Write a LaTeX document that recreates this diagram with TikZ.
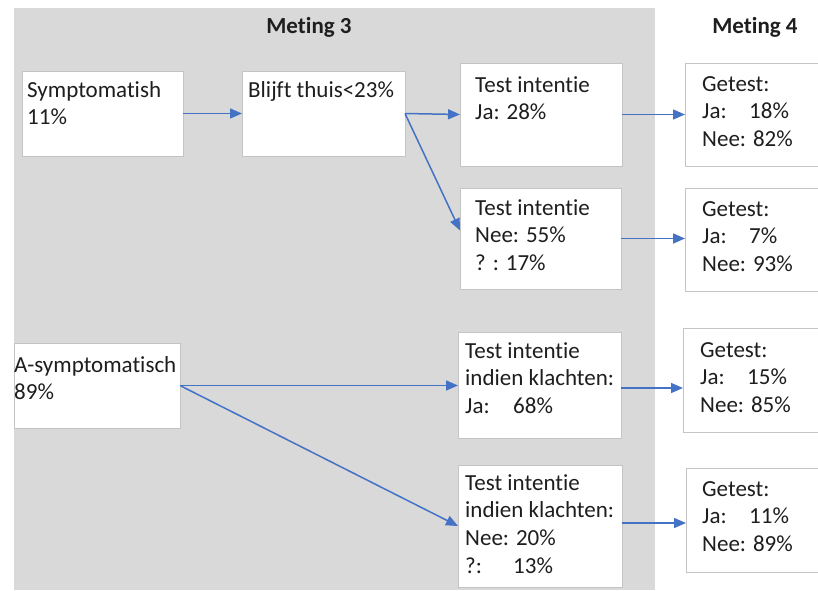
\documentclass[tikz,border=0pt]{standalone}
\usepackage{fontspec}
\setmainfont{Carlito}[Ligatures={NoCommon,NoContextual}]
\usetikzlibrary{arrows.meta,calc}
\definecolor{bgc}{HTML}{D9D9D9}
\definecolor{bdc}{HTML}{C4C4C4}
\definecolor{arc}{HTML}{4472C4}
\definecolor{txc}{HTML}{1E1E1E}
\begin{document}
\begin{tikzpicture}[x=1pt,y=-1pt,
  box/.style={draw=bdc, line width=1pt, fill=white, anchor=north west, inner sep=0pt, outer sep=0pt},
  txtn/.style={anchor=base west, inner sep=0pt, text=txc, font=\fontsize{23}{27.8}\selectfont},
  ttl/.style={anchor=base, inner sep=0pt, text=txc, font=\fontsize{23}{27.8}\selectfont\bfseries},
  conn/.style={draw=arc, line width=1.5pt, -{Triangle[length=12pt,width=10pt]}}]
\useasboundingbox (0,0) rectangle (818,590);
\clip (0,0) rectangle (818,590);
\fill[bgc] (14,8) rectangle (655,590);
\node[ttl] (m3) at (309,33) {Meting 3};
\node[ttl] (m4) at (755,33) {Meting 4};
% boxes
\node[box, minimum width=161pt, minimum height=85pt] (sym) at (22,71) {};
\node[box, minimum width=163pt, minimum height=85pt] (blt) at (242,71) {};
\node[box, minimum width=162pt, minimum height=103pt] (tja) at (460,63) {};
\node[box, minimum width=161pt, minimum height=101pt] (tnee) at (460,188) {};
\node[box, minimum width=200pt, minimum height=103pt] (ga) at (685,63) {};
\node[box, minimum width=200pt, minimum height=103pt] (gb) at (685,188) {};
\node[box, minimum width=166pt, minimum height=85pt] (asym) at (14,343) {};
\node[box, minimum width=163pt, minimum height=106pt] (kja) at (458,332) {};
\node[box, minimum width=164pt, minimum height=122pt] (knee) at (458,465) {};
\node[box, minimum width=200pt, minimum height=104pt] (gc) at (683,328) {};
\node[box, minimum width=200pt, minimum height=104pt] (gd) at (686,468) {};
% texts
\node[txtn] (symt) at (27,97) {\parbox[t]{155pt}{\raggedright Symptomatish\\11\%}};
\node[txtn] (bltt) at (248,97) {\parbox[t]{158pt}{\raggedright Blijft thuis<23\%}};
\node[txtn] (tjat) at (475,92) {\parbox[t]{145pt}{\raggedright Test intentie\\Ja: 28\%}};
\node[txtn] (tneet) at (475,215) {\parbox[t]{145pt}{\raggedright Test intentie\\Nee: 55\%\\? : 17\%}};
\node[txtn] (gat) at (702,91) {\parbox[t]{115pt}{\raggedright Getest:\\\makebox[47pt][l]{Ja:}18\%\\Nee: 82\%}};
\node[txtn] (gbt) at (702,216) {\parbox[t]{115pt}{\raggedright Getest:\\\makebox[47pt][l]{Ja:}7\%\\Nee: 93\%}};
\node[txtn] (asymt) at (14,372) {\parbox[t]{166pt}{\raggedright A-symptomatisch\\89\%}};
\node[txtn] (kjat) at (465,358) {\parbox[t]{156pt}{\raggedright Test intentie\\indien klachten:\\\makebox[48pt][l]{Ja:}68\%}};
\node[txtn] (kneet) at (465,490) {\parbox[t]{156pt}{\raggedright Test intentie\\indien klachten:\\Nee: 20\%\\\makebox[48pt][l]{?:}13\%}};
\node[txtn] (gct) at (700,357) {\parbox[t]{117pt}{\raggedright Getest:\\\makebox[47pt][l]{Ja:}15\%\\Nee: 85\%}};
\node[txtn] (gdt) at (702,496) {\parbox[t]{115pt}{\raggedright Getest:\\\makebox[47pt][l]{Ja:}11\%\\Nee: 89\%}};
% connectors
\draw[conn] (sym.east) -- (blt.west);
\draw[conn] (blt.east) -- (tja.west);
\draw[conn] (blt.east) -- ([yshift=8pt]tnee.west);
\draw[conn] (tja.east) -- (tja.east -| ga.west);
\draw[conn] (tnee.east) -- (tnee.east -| gb.west);
\draw[conn] (asym.east) -- (asym.east -| kja.west);
\draw[conn] (asym.east) -- (knee.west);
\draw[conn] ([yshift=-3pt]kja.east) -- ([yshift=-3pt]kja.east -| gc.west);
\draw[conn] ([yshift=3pt]knee.east) -- ([yshift=3pt]knee.east -| gd.west);
\end{tikzpicture}
\end{document}
